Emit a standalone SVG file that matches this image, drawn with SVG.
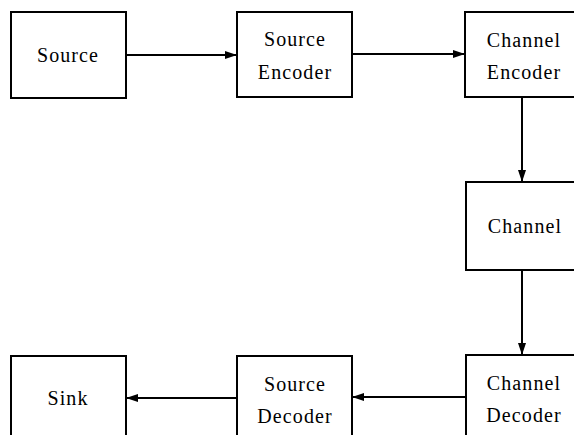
<svg xmlns="http://www.w3.org/2000/svg" width="574" height="435" viewBox="0 0 574 435">
  <style>
    .box { fill: #fff; stroke: #000; stroke-width: 2; }
    .lbl { font-family: "Liberation Serif", "DejaVu Serif", serif; font-size: 20px; letter-spacing: 1.1px; fill: #000; text-anchor: middle; }
    .wire { stroke: #000; stroke-width: 2; fill: none; marker-end: url(#head); }
  </style>
  <defs>
    <marker id="head" viewBox="0 0 12 8" refX="12" refY="4" markerWidth="12" markerHeight="8" markerUnits="userSpaceOnUse" orient="auto">
      <path d="M0,0 L12,4 L0,8 z" fill="#000"/>
    </marker>
  </defs>

  <rect width="574" height="435" fill="#fff"/>

  <g id="connectors">
    <line class="wire" x1="126" y1="55" x2="237" y2="55"/>
    <line class="wire" x1="352" y1="54" x2="465" y2="54"/>
    <line class="wire" x1="522" y1="97" x2="522" y2="182"/>
    <line class="wire" x1="522" y1="270" x2="522" y2="355"/>
    <line class="wire" x1="466" y1="397" x2="352" y2="397"/>
    <line class="wire" x1="237" y1="398" x2="126" y2="398"/>
  </g>

  <g id="source">
    <rect class="box" x="11" y="12" width="115" height="86"/>
    <text class="lbl" x="68" y="62">Source</text>
  </g>

  <g id="source-encoder">
    <rect class="box" x="237" y="12" width="115" height="85"/>
    <text class="lbl" x="295" y="46">Source</text>
    <text class="lbl" x="295" y="79">Encoder</text>
  </g>

  <g id="channel-encoder">
    <rect class="box" x="465" y="12" width="116" height="85"/>
    <text class="lbl" x="524" y="47">Channel</text>
    <text class="lbl" x="524" y="79">Encoder</text>
  </g>

  <g id="channel">
    <rect class="box" x="466" y="182" width="116" height="88"/>
    <text class="lbl" x="525" y="233">Channel</text>
  </g>

  <g id="channel-decoder">
    <rect class="box" x="466" y="355" width="116" height="86"/>
    <text class="lbl" x="524" y="390">Channel</text>
    <text class="lbl" x="524" y="422">Decoder</text>
  </g>

  <g id="source-decoder">
    <rect class="box" x="237" y="356" width="115" height="85"/>
    <text class="lbl" x="295" y="391">Source</text>
    <text class="lbl" x="295" y="423">Decoder</text>
  </g>

  <g id="sink">
    <rect class="box" x="11" y="356" width="115" height="85"/>
    <text class="lbl" x="68" y="405">Sink</text>
  </g>
</svg>
